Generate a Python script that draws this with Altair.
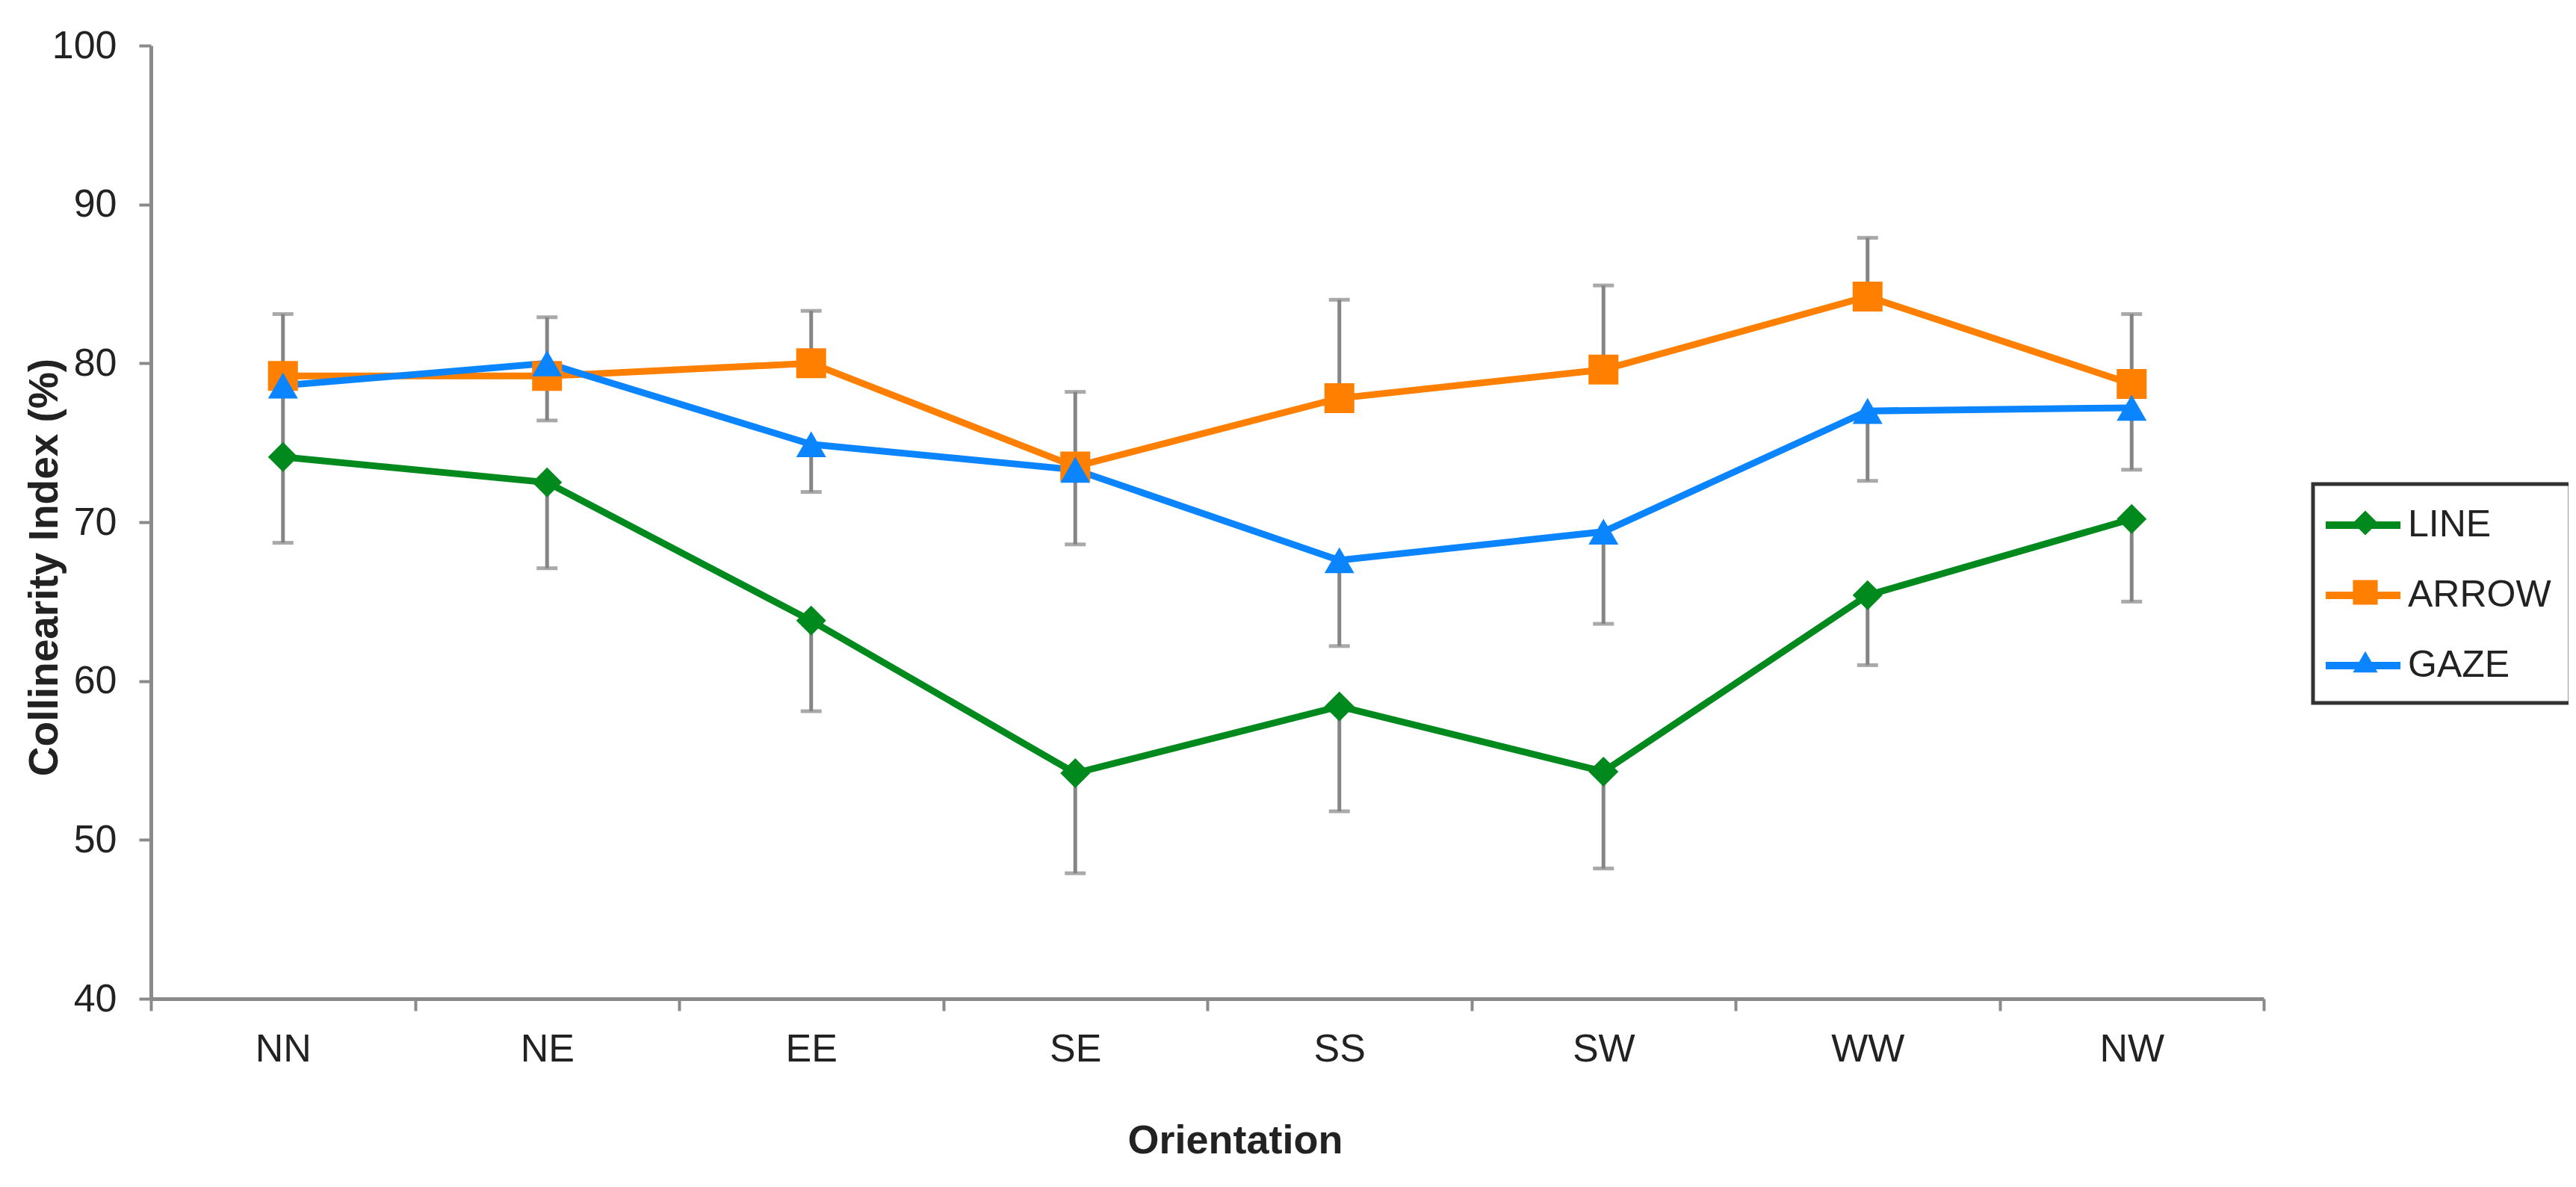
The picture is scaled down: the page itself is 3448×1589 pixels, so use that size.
import altair as alt
import pandas as pd

orientations = ["NN", "NE", "EE", "SE", "SS", "SW", "WW", "NW"]
series_names = ["LINE", "ARROW", "GAZE"]
series_colors = ["#00891c", "#ff7f00", "#0a84ff"]
marker_shapes = ["diamond", "square", "triangle-up"]

line_vals = [74.1, 72.5, 63.8, 54.2, 58.4, 54.3, 65.4, 70.2]
line_err = [5.4, 5.4, 5.7, 6.3, 6.6, 6.1, 4.4, 5.2]
arrow_vals = [79.2, 79.2, 80.0, 73.5, 77.8, 79.6, 84.2, 78.7]
arrow_err = [3.9, 3.7, 3.3, 4.7, 6.2, 5.3, 3.7, 4.4]
gaze_vals = [78.6, 80.0, 74.9, 73.3, 67.6, 69.4, 77.0, 77.2]
gaze_err = [4.5, 3.6, 3.0, 4.7, 5.4, 5.8, 4.4, 3.9]

# direction in which each series' error bar is drawn (+1 up, -1 down)
err_sign = {"LINE": -1, "ARROW": 1, "GAZE": -1}

rows = []
for name, vals, errs in [("LINE", line_vals, line_err),
                         ("ARROW", arrow_vals, arrow_err),
                         ("GAZE", gaze_vals, gaze_err)]:
    for o, v, e in zip(orientations, vals, errs):
        rows.append({"orientation": o, "series": name, "value": v,
                     "bar_end": v + err_sign[name] * e})
df = pd.DataFrame(rows)

FONT = "Liberation Sans"
GRAY = "#8a8a8a"
ERR = "#858585"
TEXT = "#222222"

x_enc = alt.X(
    "orientation:N", sort=orientations,
    scale=alt.Scale(type="band", paddingInner=0, paddingOuter=0),
    axis=alt.Axis(title="Orientation", labelAngle=0, tickBand="extent",
                  domainColor=GRAY, domainWidth=5, tickColor=GRAY, tickWidth=4,
                  tickSize=16, labelFontSize=52, labelPadding=26, labelColor=TEXT,
                  titleFontSize=54, titleFontWeight="bold", titlePadding=70,
                  titleX=1451, titleColor=TEXT, grid=False),
)
y_scale = alt.Scale(domain=[40, 100], nice=False, zero=False)
y_axis = alt.Axis(title="Collinearity Index (%)", values=[40, 50, 60, 70, 80, 90, 100],
                  domainColor=GRAY, domainWidth=5, tickColor=GRAY, tickWidth=4,
                  tickSize=16, labelFontSize=52, labelPadding=30, labelColor=TEXT,
                  titleFontSize=55, titleFontWeight="bold", titleColor=TEXT,
                  titleX=-114, titleY=698, titleBaseline="bottom", grid=False)

# legend for the lines (with labels and frame)
line_legend = alt.Legend(
    title=None, orient="none", legendX=2894, legendY=587, padding=25,
    strokeColor="#333333", labelFontSize=50, labelFont=FONT, labelColor=TEXT,
    labelLimit=400, labelOffset=30, rowPadding=39,
    symbolSize=2500, symbolStrokeWidth=10, symbolOffset=12, symbolType="M-2,0H2")
# legend for the markers, drawn on the same spot, without labels
marker_legend = alt.Legend(
    title=None, orient="none", legendX=2894, legendY=587, padding=25,
    labelFontSize=50, labelFont=FONT, labelExpr="''", labelOffset=30,
    rowPadding=39, clipHeight=54, symbolSize=1100, symbolOffset=20,
    symbolStrokeWidth=0, symbolOpacity=1)

base = alt.Chart(df)

bars = base.mark_rule(color=ERR, strokeWidth=5).encode(
    x=x_enc, y=alt.Y("value:Q", scale=y_scale, axis=y_axis), y2="bar_end:Q")
caps = base.mark_tick(color=ERR, size=28, thickness=5, orient="horizontal").encode(
    x=x_enc, y=alt.Y("bar_end:Q", scale=y_scale))
lines = base.mark_line(strokeWidth=9).encode(
    x=x_enc, y=alt.Y("value:Q", scale=y_scale),
    stroke=alt.Stroke("series:N", sort=series_names,
                      scale=alt.Scale(range=series_colors), legend=line_legend))
points = base.mark_point(filled=True, opacity=1, size=1600).encode(
    x=x_enc, y=alt.Y("value:Q", scale=y_scale),
    color=alt.Color("series:N", scale=alt.Scale(domain=series_names, range=series_colors),
                    legend=marker_legend),
    shape=alt.Shape("series:N", scale=alt.Scale(domain=series_names, range=marker_shapes),
                    legend=marker_legend))

chart = alt.layer(bars, caps, lines, points).properties(
    width=2828, height=1276,
    autosize=alt.AutoSizeParams(type="none"),
    padding={"left": 194, "top": 53, "right": 408, "bottom": 236},
).configure_view(strokeWidth=0).configure_axis(
    labelFont=FONT, titleFont=FONT
).configure_legend(strokeWidth=5)

chart.save("out.html", embed_options={"renderer": "svg", "actions": False})
